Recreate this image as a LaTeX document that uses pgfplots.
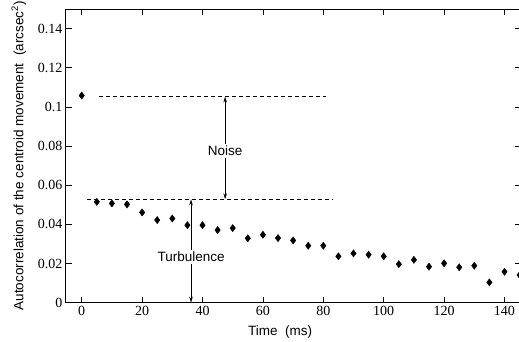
\documentclass[border=0pt]{standalone}
\usepackage{pgfplots}
\pgfplotsset{compat=1.18}
\usepackage{fontspec}
\setmainfont{Liberation Serif}
\setsansfont{Liberation Sans}
\usetikzlibrary{arrows.meta}
\begin{document}
\begin{tikzpicture}
\path[use as bounding box] (-66pt,-38.3pt) rectangle (453pt,302.7pt);
\begin{axis}[
  at={(0pt,0pt)}, anchor=south west,
  scale only axis, width=454.5pt, height=293.7pt,
  xmin=-5.2, xmax=145.3, ymin=0, ymax=0.15,
  clip marker paths=true,
  xtick={0,20,40,60,80,100,120,140},
  ytick={0,0.02,0.04,0.06,0.08,0.1,0.12,0.14},
  scaled y ticks=false,
  yticklabel style={/pgf/number format/fixed,/pgf/number format/precision=2},
  tick align=inside, major tick length=6pt,
  tick style={black, line width=0.8pt},
  axis line style={line width=1pt},
  ticklabel style={font=\rmfamily\fontsize{14}{16}\selectfont},
  /pgf/number format/assume math mode=true,
  xlabel={Time\ \ (ms)},
  ylabel={Autocorrelation of the centroid movement\ \ (arcsec\textsuperscript{2})},
  label style={font=\sffamily\fontsize{13.5}{15}\selectfont},
  xlabel style={at={(axis description cs:0.471,-0.0985)}, anchor=center},
  ylabel style={at={(axis description cs:-0.1035,0.5)}, anchor=center},
  >={Stealth[length=6pt,width=3.5pt]},
]
\addplot[only marks, mark=diamond*, mark size=3.6pt, black] coordinates {
(0,0.1058) (5,0.0515) (10,0.0507) (15,0.0502) (20,0.0461) (25,0.0422)
(30,0.0430) (35,0.0396) (40,0.0396) (45,0.0371) (50,0.0381) (55,0.0329)
(60,0.0347) (65,0.0330) (70,0.0318) (75,0.0291) (80,0.0291) (85,0.0237)
(90,0.0252) (95,0.0245) (100,0.0237) (105,0.0197) (110,0.0219) (115,0.0184)
(120,0.0201) (125,0.0181) (130,0.0189) (135,0.0104) (140,0.0158) (145,0.0141)
};
\addplot[black, line width=0.8pt, dash pattern=on 4pt off 3pt] coordinates {(5.7,0.1053) (80.8,0.1053)};
\addplot[black, line width=0.8pt, dash pattern=on 4pt off 3pt] coordinates {(1.7,0.0528) (83,0.0528)};
\draw[<->, line width=0.8pt] (axis cs:47.5,0.1053) -- (axis cs:47.5,0.0528);
\node[fill=white, inner sep=2pt, font=\sffamily\fontsize{13.5}{15}\selectfont] at (axis cs:47.5,0.0776) {Noise};
\draw[<->, line width=0.8pt] (axis cs:36.2,0.0528) -- (axis cs:36.2,0);
\node[fill=white, inner sep=2pt, font=\sffamily\fontsize{13.5}{15}\selectfont] at (axis cs:36.2,0.0235) {Turbulence};
\end{axis}
\end{tikzpicture}
\end{document}
